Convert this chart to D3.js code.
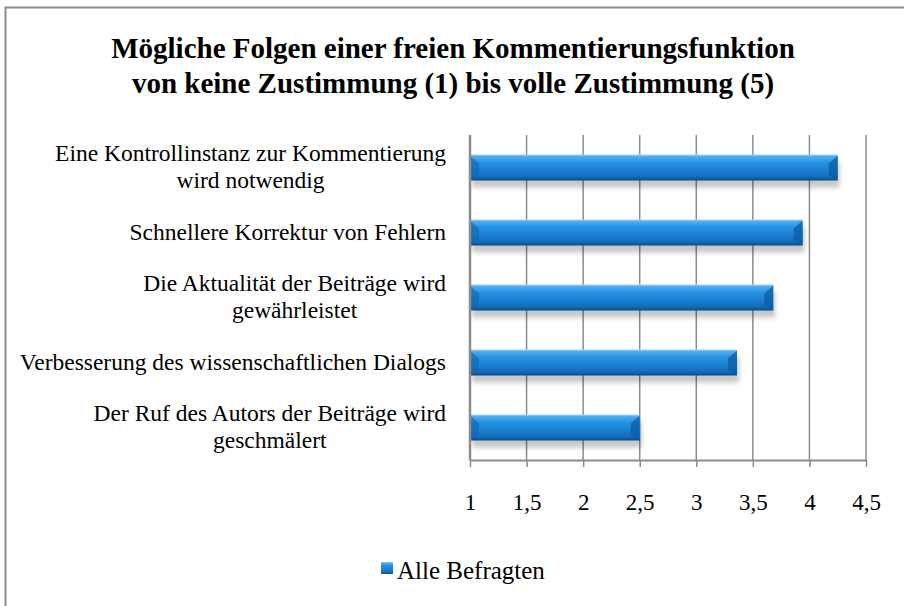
<!DOCTYPE html>
<html>
<head>
<meta charset="utf-8">
<script src="https://cdn.jsdelivr.net/npm/d3@7"></script>
<style>
  html, body { margin: 0; padding: 0; background: #fff; }
  svg text { font-family: "Liberation Serif", "DejaVu Serif", serif; }
</style>
</head>
<body>
<div id="chart"></div>
<script>
// Daten (von oben nach unten)
const categories = [
    ['Eine Kontrollinstanz zur Kommentierung', 'wird notwendig'],
    ['Schnellere Korrektur von Fehlern'],
    ['Die Aktualität der Beiträge wird', 'gewährleistet'],
    ['Verbesserung des wissenschaftlichen Dialogs'],
    ['Der Ruf des Autors der Beiträge wird', 'geschmälert']
];
const values = [4.25, 3.94, 3.68, 3.36, 2.5];
const xTicks = [1, 1.5, 2, 2.5, 3, 3.5, 4, 4.5];
const titleLines = [
    'Mögliche Folgen einer freien Kommentierungsfunktion',
    'von keine Zustimmung (1) bis volle Zustimmung (5)'
];
const seriesName = 'Alle Befragten';

const width = 904, height = 606;
const margin = { top: 135, right: 38, bottom: 146, left: 470 };
const serif = '"Liberation Serif", "DejaVu Serif", serif';

const svg = d3.select('#chart')
    .append('svg')
    .attr('width', width)
    .attr('height', height);

// Rahmen
svg.append('rect')
    .attr('x', 5.5).attr('y', 7.5)
    .attr('width', width).attr('height', height)
    .attr('fill', '#fff')
    .attr('stroke', '#8c8c8c')
    .attr('stroke-width', 2);

const defs = svg.append('defs');

// Balkenverlauf (Excel-Stil)
const grad = defs.append('linearGradient')
    .attr('id', 'barGrad')
    .attr('x1', 0).attr('y1', 0).attr('x2', 0).attr('y2', 1);
[
    [0, '#a8d8f8'],
    [0.08, '#4dadef'],
    [0.3, '#2792e3'],
    [0.6, '#1b80d3'],
    [0.85, '#146dbd'],
    [0.93, '#0e5ca1'],
    [1, '#0b4a85']
].forEach(([o, c]) => grad.append('stop').attr('offset', o).attr('stop-color', c));

const shadow = defs.append('filter')
    .attr('id', 'shadow')
    .attr('x', '-10%').attr('y', '-50%')
    .attr('width', '120%').attr('height', '200%');
shadow.append('feGaussianBlur').attr('stdDeviation', 2.5);

const x = d3.scaleLinear()
    .domain([1, 4.5])
    .range([margin.left, width - margin.right]);

const y = d3.scaleBand()
    .domain(d3.range(categories.length))
    .range([margin.top, height - margin.bottom])
    .paddingInner(0.6)
    .paddingOuter(0.3);

// Gitternetz
svg.append('g')
    .selectAll('line')
    .data(xTicks)
    .enter()
    .append('line')
    .attr('x1', d => x(d)).attr('x2', d => x(d))
    .attr('y1', margin.top)
    .attr('y2', height - margin.bottom)
    .attr('stroke', '#8c8c8c')
    .attr('stroke-width', 1.5);

// Balken
const bars = svg.append('g')
    .selectAll('g')
    .data(values)
    .enter()
    .append('g');

bars.append('rect')
    .attr('x', x(1) + 2)
    .attr('y', (d, i) => y(i) + 7)
    .attr('width', d => x(d) - x(1))
    .attr('height', y.bandwidth())
    .attr('fill', '#000')
    .attr('opacity', 0.22)
    .attr('filter', 'url(#shadow)');

bars.append('rect')
    .attr('x', x(1))
    .attr('y', (d, i) => y(i))
    .attr('width', d => x(d) - x(1))
    .attr('height', y.bandwidth())
    .attr('fill', 'url(#barGrad)');

// Abschrägung an den Enden
const bev = 9;
bars.append('path')
    .attr('d', (d, i) => {
        const x0 = x(1), y0 = y(i), h = y.bandwidth();
        return `M${x0},${y0 + 1}L${x0 + bev},${y0 + bev}L${x0 + bev},${y0 + h - bev * 0.6}L${x0},${y0 + h}Z`;
    })
    .attr('fill', '#1064b0')
    .attr('opacity', 0.6);

bars.append('path')
    .attr('d', (d, i) => {
        const x1 = x(d), y0 = y(i), h = y.bandwidth();
        return `M${x1},${y0 + 1}L${x1 - bev},${y0 + bev}L${x1 - bev},${y0 + h - bev * 0.6}L${x1},${y0 + h}Z`;
    })
    .attr('fill', '#0c5a9e')
    .attr('opacity', 0.7);

// Achsen
const xAxis = svg.append('g')
    .attr('transform', `translate(0,${height - margin.bottom})`)
    .call(d3.axisBottom(x)
        .tickValues(xTicks)
        .tickSize(7)
        .tickPadding(27)
        .tickSizeOuter(0)
        .tickFormat(d => String(d).replace('.', ',')));
xAxis.attr('font-family', serif);
xAxis.select('.domain').attr('stroke', '#8c8c8c').attr('stroke-width', 2);
xAxis.selectAll('.tick line').attr('stroke', '#8c8c8c').attr('stroke-width', 1.5);
xAxis.selectAll('.tick text')
    .attr('fill', '#000')
    .style('font-size', '23px');

svg.append('line')
    .attr('x1', x(1)).attr('x2', x(1))
    .attr('y1', margin.top).attr('y2', height - margin.bottom)
    .attr('stroke', '#8c8c8c')
    .attr('stroke-width', 2.5);

// Kategorienbeschriftung
const lineH = 27;
const labels = svg.append('g')
    .selectAll('text')
    .data(categories)
    .enter()
    .append('text')
    .attr('font-size', '23.5px')
    .attr('fill', '#000')
    .attr('text-anchor', 'middle');

labels.each(function (lines, i) {
    const t = d3.select(this);
    const cy = y(i) + y.bandwidth() / 2;
    const startY = cy - (lines.length - 1) * lineH / 2 + 7;
    lines.forEach((l, j) => {
        t.append('tspan').attr('x', 0).attr('y', startY + j * lineH).text(l);
    });
    let maxW = 0;
    t.selectAll('tspan').each(function () {
        maxW = Math.max(maxW, this.getComputedTextLength());
    });
    t.selectAll('tspan').attr('x', 446 - maxW / 2);
});

// Titel
svg.append('text')
    .attr('text-anchor', 'middle')
    .attr('font-size', '29px')
    .attr('font-weight', 'bold')
    .selectAll('tspan')
    .data(titleLines)
    .enter()
    .append('tspan')
    .attr('x', 453)
    .attr('y', (d, i) => 58 + i * 35)
    .text(d => d);

// Legende
const legend = svg.append('g').attr('transform', 'translate(381,562)');
legend.append('rect')
    .attr('width', 12).attr('height', 12)
    .attr('fill', 'url(#barGrad)');
legend.append('text')
    .attr('x', 16).attr('y', 17)
    .attr('font-size', '25px')
    .text(seriesName);
</script>
</body>
</html>
